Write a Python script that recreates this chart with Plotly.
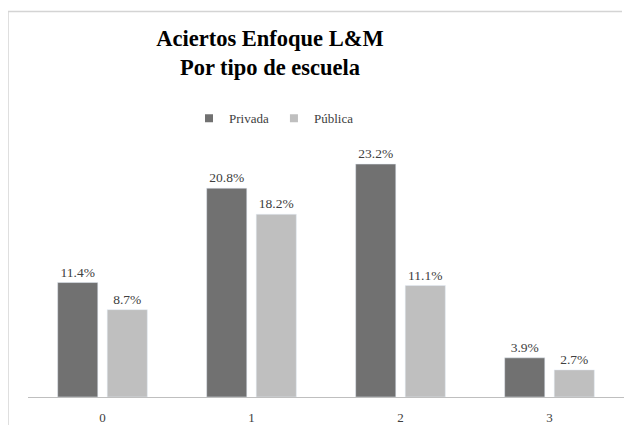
import plotly.graph_objects as go

categories = ["0", "1", "2", "3"]
privada = [11.4, 20.8, 23.2, 3.9]
publica = [8.7, 18.2, 11.1, 2.7]
series_names = ["Privada", "Pública"]
colors = ["#717171", "#bfbfbf"]

# page has an 8px body margin: figure is shifted and kept inside the window
OFF = 8
W, H = 632 - 2 * OFF, 433 - 2 * OFF
L, T = 28 - OFF, 146 - OFF
R = 0
B = H - (400 - OFF)
pw, ph = W - L - R, H - T - B

def px_x(p):
    return (p - OFF - L) / pw

def px_y(p):
    return (H - B - (p - OFF)) / ph

font_fam = "Liberation Serif, DejaVu Serif, serif"

fig = go.Figure()
for name, vals, col in zip(series_names, [privada, publica], colors):
    fig.add_trace(go.Bar(
        x=categories, y=vals, name=name, marker_color=col,
        text=[f"{v:.1f}%" for v in vals], textposition="outside",
        textfont=dict(size=13.5, color="#404040", family=font_fam),
        cliponaxis=False, showlegend=False,
    ))
for name, col in zip(series_names, colors):
    fig.add_trace(go.Scatter(
        x=[None], y=[None], mode="markers", name=name,
        marker=dict(symbol="square", size=8, color=col),
    ))

fig.update_layout(
    width=W, height=H,
    margin=dict(l=L, r=R, t=T, b=B, pad=0),
    paper_bgcolor="white", plot_bgcolor="white",
    barmode="group", bargap=0.335, bargroupgap=0.19,
    font=dict(family=font_fam, color="#404040"),
    title=dict(text="<b>Aciertos Enfoque L&M<br>Por tipo de escuela</b>",
               x=(270 - OFF) / W, xanchor="center", y=1 - 38 / H, yanchor="middle",
               font=dict(size=22.5, color="#000000", family=font_fam)),
    legend=dict(orientation="h", x=px_x(274), xanchor="center",
                y=px_y(118), yanchor="middle",
                font=dict(size=13, color="#404040", family=font_fam),
                itemwidth=30, traceorder="normal", tracegroupgap=0),
    xaxis=dict(showline=True, linecolor="#bfbfbf", linewidth=1,
               ticks="", tickfont=dict(size=13, color="#404040"),
               ticklabelstandoff=8, showgrid=False, range=[-0.5, 3.5]),
    yaxis=dict(range=[0, 25], visible=False, showgrid=False),
    showlegend=True,
)

fig.add_shape(type="line", xref="paper", yref="paper",
              x0=px_x(8), x1=px_x(8), y0=px_y(10), y1=px_y(430),
              line=dict(color="#d4d4d4", width=1.5))
fig.add_shape(type="line", xref="paper", yref="paper",
              x0=px_x(8), x1=px_x(622), y0=px_y(10), y1=px_y(10),
              line=dict(color="#d4d4d4", width=1.5))

fig.write_html(
    "out.html",
    post_script="document.body.style.overflow='hidden';"
                "document.documentElement.style.overflow='hidden';",
)
